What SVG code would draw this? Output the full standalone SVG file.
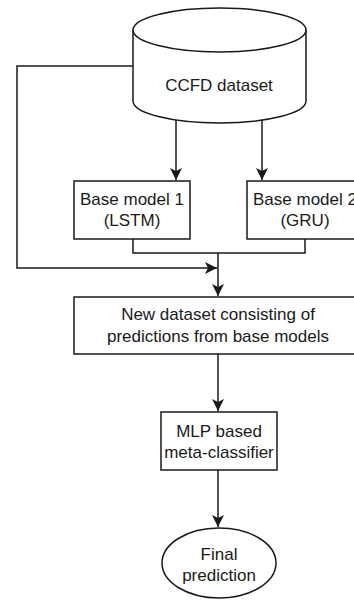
<svg xmlns="http://www.w3.org/2000/svg" width="354" height="600" viewBox="0 0 354 600">
  <style>
    .shape { fill: #ffffff; stroke: #1a1a1a; stroke-width: 1.5; }
    .edge { fill: none; stroke: #1a1a1a; stroke-width: 1.5; }
    .label { font-family: Arial, "Liberation Sans", sans-serif; font-size: 17px; fill: #1a1a1a; text-anchor: middle; }
  </style>
  <defs>
    <marker id="arrow" viewBox="0 0 12 12" refX="12" refY="6" markerWidth="12" markerHeight="12" markerUnits="userSpaceOnUse" orient="auto">
      <path d="M0,0 L12,6 L0,12 L3,6 Z" fill="#1a1a1a"/>
    </marker>
  </defs>
  <rect width="354" height="600" fill="#ffffff"/>

  <g id="connectors">
    <!-- dataset feeds both base models -->
    <path class="edge" d="M176,120 V180" marker-end="url(#arrow)"/>
    <path class="edge" d="M262,120 V180" marker-end="url(#arrow)"/>
    <!-- raw dataset bypass on the left -->
    <path class="edge" d="M133,66 H17 V268 H217" marker-end="url(#arrow)"/>
    <!-- base model outputs merge -->
    <path class="edge" d="M133,239 V253 H305 V239"/>
    <path class="edge" d="M218,253 V296" marker-end="url(#arrow)"/>
    <path class="edge" d="M218,354 V411" marker-end="url(#arrow)"/>
    <path class="edge" d="M218,470 V527" marker-end="url(#arrow)"/>
  </g>

  <g id="ccfd-dataset">
    <path class="shape" d="M133,30 V101 A86.5,22 0 0 0 306,101 V30 A86.5,22 0 0 0 133,30 Z"/>
    <path class="edge" d="M133,30 A86.5,22 0 0 0 306,30"/>
    <text class="label" x="219" y="91">CCFD dataset</text>
  </g>

  <g id="base-model-1">
    <rect class="shape" x="74" y="181" width="116" height="58"/>
    <text class="label" x="132" y="205">Base model 1</text>
    <text class="label" x="132" y="226">(LSTM)</text>
  </g>

  <g id="base-model-2">
    <rect class="shape" x="247" y="181" width="116" height="58"/>
    <text class="label" x="305" y="205">Base model 2</text>
    <text class="label" x="305" y="226">(GRU)</text>
  </g>

  <g id="new-dataset">
    <rect class="shape" x="74" y="297" width="289" height="57"/>
    <text class="label" x="218" y="320">New dataset consisting of</text>
    <text class="label" x="218" y="342">predictions from base models</text>
  </g>

  <g id="meta-classifier">
    <rect class="shape" x="161" y="412" width="116" height="58"/>
    <text class="label" x="219" y="437">MLP based</text>
    <text class="label" x="219" y="458">meta-classifier</text>
  </g>

  <g id="final-prediction">
    <ellipse class="shape" cx="219" cy="563" rx="57" ry="35"/>
    <text class="label" x="219" y="560">Final</text>
    <text class="label" x="219" y="581">prediction</text>
  </g>
</svg>
